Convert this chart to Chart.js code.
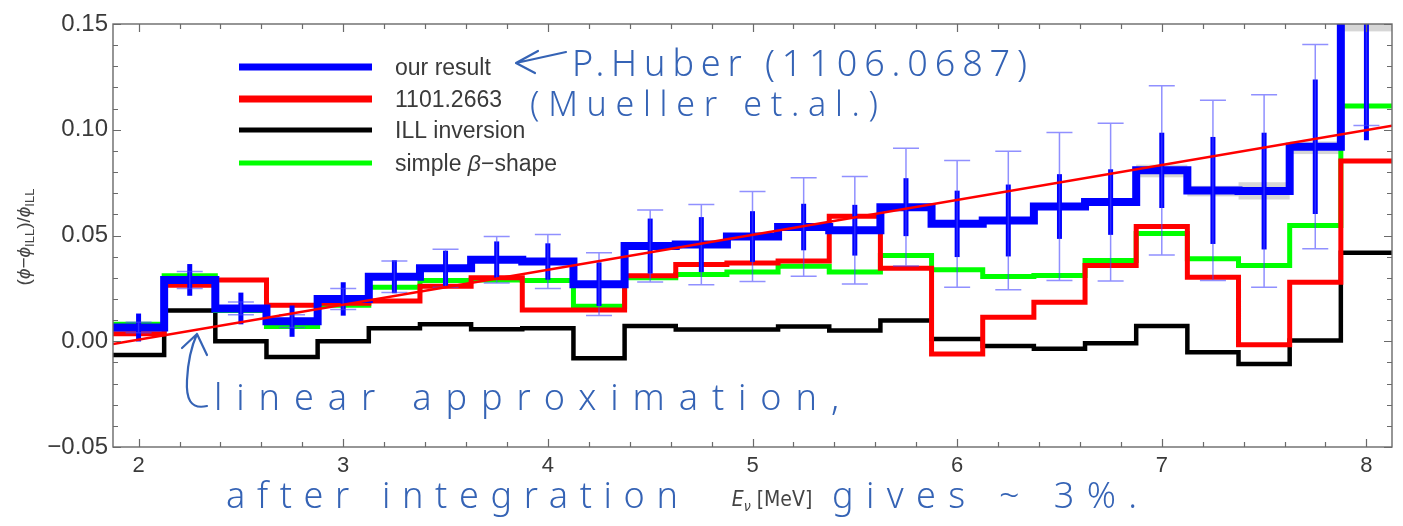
<!DOCTYPE html>
<html>
<head>
<meta charset="utf-8">
<title>Reactor antineutrino flux relative to ILL</title>
<script src="https://cdn.jsdelivr.net/npm/chart.js@4.4.1/dist/chart.umd.min.js"></script>
<style>
  html, body { margin: 0; padding: 0; background: #ffffff; }
  #wrap { width: 1403px; height: 526px; position: relative; }
</style>
</head>
<body>
<div id="wrap"><canvas id="c"></canvas></div>
<script>
// ---- data: (phi - phi_ILL)/phi_ILL per 250 keV bin ----
const binCenters = [2.00, 2.25, 2.50, 2.75, 3.00, 3.25, 3.50, 3.75, 4.00, 4.25, 4.50, 4.75,
                    5.00, 5.25, 5.50, 5.75, 6.00, 6.25, 6.50, 6.75, 7.00, 7.25, 7.50, 7.75, 8.00];
const binWidth = 0.25;

const ourResult    = [0.0065, 0.0290, 0.0155, 0.0095, 0.0200, 0.0305, 0.0345, 0.0385, 0.0377, 0.0270,
                      0.0450, 0.0457, 0.0495, 0.0540, 0.0525, 0.0634, 0.0555, 0.0571, 0.0637, 0.0658,
                      0.0808, 0.0713, 0.0710, 0.0920, 0.1600];
// half-widths of the wide (thin, light) and narrow (thick) error bars
const errWide      = [0.0025, 0.0040, 0.0030, 0.0030, 0.0050, 0.0075, 0.0090, 0.0110, 0.0128, 0.0148,
                      0.0170, 0.0190, 0.0213, 0.0233, 0.0254, 0.0278, 0.0300, 0.0327, 0.0350, 0.0373,
                      0.0400, 0.0426, 0.0455, 0.0483, 0.0580];
const errNarrow    = [0.0066, 0.0075, 0.0075, 0.0074, 0.0079, 0.0078, 0.0083, 0.0087, 0.0086, 0.0103,
                      0.0130, 0.0130, 0.0120, 0.0110, 0.0120, 0.0137, 0.0157, 0.0170, 0.0153, 0.0155,
                      0.0178, 0.0253, 0.0276, 0.0318, 0.0650];
// shaded uncertainty band around "our result" (only where it shows)
const bandLow      = [null, null, null, null, null, null, null, null, null, null, null, null, null,
                      null, null, null, null, null, null, null, 0.0775, 0.0685, 0.0670, 0.0885, 0.1465];
const bandHigh     = [null, null, null, null, null, null, null, null, null, null, null, null, null,
                      null, null, null, null, null, null, null, 0.0835, 0.0735, 0.0752, 0.0945, 0.1700];

const mueller      = [0.0035, 0.0265, 0.0290, 0.0170, 0.0180, 0.0190, 0.0260, 0.0300, 0.0148, 0.0148,
                      0.0310, 0.0363, 0.0370, 0.0380, 0.0591, 0.0345, -0.0060, 0.0114, 0.0184, 0.0358,
                      0.0543, 0.0303, -0.0017, 0.0279, 0.0852];
const illInversion = [-0.0065, 0.0145, 0.0000, -0.0075, 0.0000, 0.0062, 0.0080, 0.0057, 0.0062, -0.0080,
                      0.0072, 0.0055, 0.0055, 0.0070, 0.0051, 0.0098, 0.0011, -0.0023, -0.0036, -0.0009,
                      0.0072, -0.0052, -0.0107, 0.0003, 0.0418];
const betaShape    = [0.0080, 0.0310, 0.0145, 0.0070, 0.0170, 0.0255, 0.0287, 0.0290, 0.0287, 0.0165,
                      0.0300, 0.0316, 0.0327, 0.0355, 0.0327, 0.0405, 0.0338, 0.0306, 0.0311, 0.0382,
                      0.0510, 0.0390, 0.0358, 0.0547, 0.1112];

// straight-line approximation across the plotted range
const linearFitE = [1.875, 8.125];
const linearFitV = [-0.0013, 0.1019];

const xTicks = [2, 3, 4, 5, 6, 7, 8];
const xTickLabels = ['2', '3', '4', '5', '6', '7', '8'];
const yTicks = [-0.05, 0.00, 0.05, 0.10, 0.15];
const yTickLabels = ['\u22120.05', '0.00', '0.05', '0.10', '0.15'];
const seriesLabels = ['our result', '1101.2663', 'ILL inversion', 'simple \u03b2\u2212shape'];

// ---- helpers ----
const N = binCenters.length;
function histPoints(vals) {
  const pts = binCenters.map((c, i) => ({ x: c - binWidth / 2, y: vals[i] }));
  pts.push({ x: binCenters[N - 1] + binWidth / 2, y: vals[N - 1] });
  return pts;
}

const FONT = '"Liberation Sans", Arial, Helvetica, sans-serif';
const NARROW = '"Liberation Sans Narrow", "DejaVu Sans Condensed", "Liberation Sans", sans-serif';
const LABEL_COLOR = '#3a3a3a';
const INK = '#3563b5';

// error bars and shaded band, drawn through the chart's own scales
const errorBarPlugin = {
  id: 'errorBars',
  beforeDatasetsDraw(chart) {
    const { ctx, chartArea: a, scales: { x, y } } = chart;
    ctx.save();
    ctx.beginPath();
    ctx.rect(a.left, a.top, a.right - a.left, a.bottom - a.top);
    ctx.clip();
    ctx.fillStyle = 'rgba(0,0,0,0.16)';
    binCenters.forEach((c, i) => {
      if (bandLow[i] === null) return;
      const x0 = x.getPixelForValue(c - binWidth / 2);
      const x1 = x.getPixelForValue(c + binWidth / 2);
      const y0 = y.getPixelForValue(bandHigh[i]);
      const y1 = y.getPixelForValue(bandLow[i]);
      ctx.fillRect(x0, y0, x1 - x0, y1 - y0);
    });
    ctx.restore();
  },
  afterDatasetDraw(chart, args) {
    if (chart.data.datasets[args.index].id !== 'ours') return;
    const { ctx, chartArea: a, scales: { x, y } } = chart;
    ctx.save();
    ctx.beginPath();
    ctx.rect(a.left, a.top, a.right - a.left, a.bottom - a.top);
    ctx.clip();
    ctx.lineCap = 'butt';
    // narrow error (thick bars)
    ctx.strokeStyle = '#0000ff';
    ctx.lineWidth = 5;
    binCenters.forEach((c, i) => {
      const px = x.getPixelForValue(c);
      ctx.beginPath();
      ctx.moveTo(px, y.getPixelForValue(ourResult[i] + errNarrow[i]));
      ctx.lineTo(px, y.getPixelForValue(ourResult[i] - errNarrow[i]));
      ctx.stroke();
    });
    // wide error (thin bars with caps)
    ctx.strokeStyle = 'rgba(70,70,255,0.6)';
    ctx.lineWidth = 1.5;
    const cap = 13;
    binCenters.forEach((c, i) => {
      const px = x.getPixelForValue(c);
      const yt = y.getPixelForValue(ourResult[i] + errWide[i]);
      const yb = y.getPixelForValue(ourResult[i] - errWide[i]);
      ctx.beginPath();
      ctx.moveTo(px, yt); ctx.lineTo(px, yb);
      ctx.moveTo(px - cap, yt); ctx.lineTo(px + cap, yt);
      ctx.moveTo(px - cap, yb); ctx.lineTo(px + cap, yb);
      ctx.stroke();
    });
    ctx.restore();
  }
};

// frame with inward major/minor ticks on all four sides
const framePlugin = {
  id: 'frame',
  afterDatasetsDraw(chart) {
    const { ctx, chartArea: a, scales: { x, y } } = chart;
    ctx.save();
    ctx.strokeStyle = '#6a6a6a';
    ctx.lineWidth = 1.4;
    ctx.strokeRect(a.left, a.top, a.right - a.left, a.bottom - a.top);
    ctx.lineWidth = 1.2;
    const major = 8, minor = 5;
    ctx.beginPath();
    for (let k = 0; k <= 30; k++) {
      const v = 2 + k * 0.2;
      const len = (k % 5 === 0) ? major : minor;
      const px = Math.round(x.getPixelForValue(v)) + 0.5;
      ctx.moveTo(px, a.bottom); ctx.lineTo(px, a.bottom - len);
      ctx.moveTo(px, a.top); ctx.lineTo(px, a.top + len);
    }
    for (let k = 0; k <= 20; k++) {
      const v = -0.05 + k * 0.01;
      const len = (k % 5 === 0) ? major : minor;
      const py = Math.round(y.getPixelForValue(v)) + 0.5;
      ctx.moveTo(a.left, py); ctx.lineTo(a.left + len, py);
      ctx.moveTo(a.right, py); ctx.lineTo(a.right - len, py);
    }
    ctx.stroke();
    ctx.restore();
  }
};

// draw a run of styled text pieces, returns total width
function drawRuns(ctx, runs, x, y, measureOnly) {
  let cx = x;
  runs.forEach(r => {
    ctx.font = r.font;
    if (!measureOnly) ctx.fillText(r.t, cx, y + (r.dy || 0));
    cx += ctx.measureText(r.t).width;
  });
  return cx - x;
}

// legend, axis titles
const labelsPlugin = {
  id: 'labels',
  afterDraw(chart) {
    const { ctx } = chart;
    ctx.save();

    // legend inside the frame
    const rows = [
      { id: 'ours', y: 67, w: 7 },
      { id: 'mueller', y: 99, w: 7 },
      { id: 'ill', y: 130, w: 5 },
      { id: 'beta', y: 163, w: 5 }
    ];
    rows.forEach(r => {
      const ds = chart.data.datasets.find(d => d.id === r.id);
      ctx.strokeStyle = ds.borderColor;
      ctx.lineWidth = r.w;
      ctx.lineCap = 'butt';
      ctx.beginPath();
      ctx.moveTo(239, r.y); ctx.lineTo(372, r.y);
      ctx.stroke();
      ctx.fillStyle = LABEL_COLOR;
      ctx.textBaseline = 'alphabetic';
      const base = r.y + 8;
      if (r.id === 'beta') {
        const parts = ds.label.split('\u03b2');
        drawRuns(ctx, [
          { t: parts[0], font: '23px ' + FONT },
          { t: '\u03b2', font: 'italic 23px ' + FONT },
          { t: parts[1], font: '23px ' + FONT }
        ], 395, base);
      } else {
        ctx.font = '23px ' + FONT;
        ctx.fillText(ds.label, 395, base);
      }
    });

    // y-axis title: (phi - phi_ILL)/phi_ILL
    ctx.fillStyle = '#444444';
    const yRuns = [
      { t: '(', font: '19px ' + FONT },
      { t: '\u03d5', font: 'italic 19px ' + FONT },
      { t: '\u2212', font: '19px ' + FONT },
      { t: '\u03d5', font: 'italic 19px ' + FONT },
      { t: 'ILL', font: '13px ' + FONT, dy: 4 },
      { t: ')/', font: '19px ' + FONT },
      { t: '\u03d5', font: 'italic 19px ' + FONT },
      { t: 'ILL', font: '13px ' + FONT, dy: 4 }
    ];
    ctx.save();
    ctx.translate(30, 237);
    ctx.rotate(-Math.PI / 2);
    ctx.textBaseline = 'alphabetic';
    const wy = drawRuns(ctx, yRuns, 0, 0, true);
    drawRuns(ctx, yRuns, -wy / 2, 0);
    ctx.restore();

    // x-axis title: E_nu [MeV]
    const xRuns = [
      { t: 'E', font: 'italic 21px ' + NARROW },
      { t: '\u03bd', font: 'italic 14px ' + NARROW, dy: 5 },
      { t: ' [MeV]', font: '21px ' + NARROW }
    ];
    ctx.textBaseline = 'alphabetic';
    const wx = drawRuns(ctx, xRuns, 0, 0, true);
    drawRuns(ctx, xRuns, 772 - wx / 2, 506);

    ctx.restore();
  }
};

// hand-written notes over the figure
function inkText(ctx, text, left, base, size, width) {
  ctx.font = '300 ' + size + 'px "Noto Sans", "Open Sans", sans-serif';
  ctx.letterSpacing = '0px';
  const w = ctx.measureText(text).width;
  const gaps = Math.max(1, text.length - 1);
  ctx.letterSpacing = ((width - w) / gaps).toFixed(2) + 'px';
  ctx.fillText(text, left, base);
  ctx.letterSpacing = '0px';
}

const notesPlugin = {
  id: 'notes',
  afterDraw(chart) {
    const { ctx } = chart;
    ctx.save();
    ctx.fillStyle = INK;
    ctx.strokeStyle = INK;
    ctx.textBaseline = 'alphabetic';
    inkText(ctx, 'P.Huber (1106.0687)', 572, 76, 36, 455);
    inkText(ctx, '(Mueller et.al.)', 530, 116, 34, 348);
    inkText(ctx, 'linear approximation,', 214, 410, 36, 625);
    inkText(ctx, 'after integration', 226, 508, 36, 452);
    inkText(ctx, 'gives ~ 3%.', 832, 508, 36, 305);

    ctx.lineWidth = 2.2;
    ctx.lineCap = 'round';
    ctx.lineJoin = 'round';
    // arrow pointing at the legend entry
    ctx.beginPath();
    ctx.moveTo(566, 52); ctx.lineTo(516, 63);
    ctx.moveTo(538, 51); ctx.lineTo(516, 63); ctx.lineTo(535, 73);
    ctx.stroke();
    // curved arrow pointing at the straight line
    ctx.beginPath();
    ctx.moveTo(207, 406);
    ctx.bezierCurveTo(190, 410, 186, 398, 187, 380);
    ctx.bezierCurveTo(188, 360, 192, 345, 197, 334);
    ctx.moveTo(182, 348); ctx.lineTo(197, 334); ctx.lineTo(207, 355);
    ctx.stroke();
    ctx.restore();
  }
};

const chart = new Chart(document.getElementById('c'), {
  type: 'line',
  data: {
    datasets: [
      { id: 'fit', label: 'linear approximation', data: linearFitE.map((e, i) => ({ x: e, y: linearFitV[i] })),
        borderColor: '#ff0000', borderWidth: 2.5, pointRadius: 0, order: 0 },
      { id: 'ours', label: seriesLabels[0], data: histPoints(ourResult), stepped: true,
        borderColor: '#0000ff', borderWidth: 8, pointRadius: 0, borderJoinStyle: 'miter', order: 1 },
      { id: 'mueller', label: seriesLabels[1], data: histPoints(mueller), stepped: true,
        borderColor: '#ff0000', borderWidth: 5, pointRadius: 0, borderJoinStyle: 'miter', order: 2 },
      { id: 'beta', label: seriesLabels[3], data: histPoints(betaShape), stepped: true,
        borderColor: '#00ff00', borderWidth: 5, pointRadius: 0, borderJoinStyle: 'miter', order: 3 },
      { id: 'ill', label: seriesLabels[2], data: histPoints(illInversion), stepped: true,
        borderColor: '#000000', borderWidth: 4.5, pointRadius: 0, borderJoinStyle: 'miter', order: 4 }
    ]
  },
  options: {
    responsive: true,
    maintainAspectRatio: false,
    animation: false,
    devicePixelRatio: 1,
    layout: { padding: { top: 24, right: 11, left: 0, bottom: 0 } },
    plugins: { legend: { display: false }, tooltip: { enabled: false } },
    elements: { point: { radius: 0 }, line: { tension: 0 } },
    scales: {
      x: {
        type: 'linear', min: 1.875, max: 8.125,
        grid: { display: false, drawTicks: false },
        border: { display: false },
        afterBuildTicks: s => { s.ticks = xTicks.map(v => ({ value: v })); },
        afterFit: s => { s.height = 79; },
        ticks: {
          autoSkip: false, maxRotation: 0, padding: 6,
          color: LABEL_COLOR, font: { family: FONT, size: 22 },
          callback: (v, i) => xTickLabels[i]
        }
      },
      y: {
        type: 'linear', min: -0.05, max: 0.15,
        grid: { display: false, drawTicks: false },
        border: { display: false },
        afterBuildTicks: s => { s.ticks = yTicks.map(v => ({ value: v })); },
        afterFit: s => { s.width = 113; },
        ticks: {
          autoSkip: false, padding: 5,
          color: LABEL_COLOR, font: { family: FONT, size: 24 },
          callback: (v, i) => yTickLabels[i]
        }
      }
    }
  },
  plugins: [errorBarPlugin, framePlugin, labelsPlugin, notesPlugin]
});
</script>
</body>
</html>
